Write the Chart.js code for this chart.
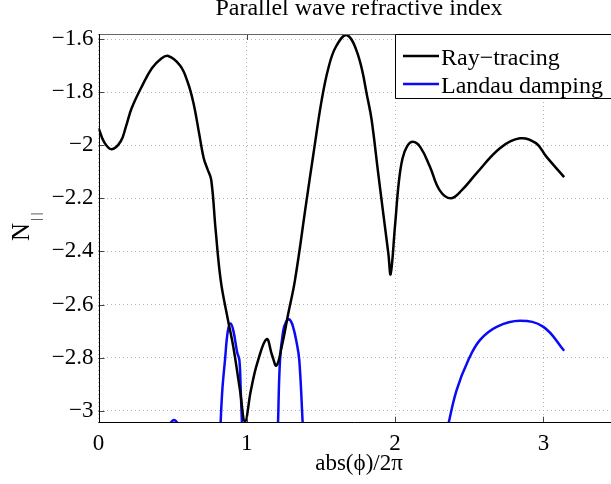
<!DOCTYPE html>
<html>
<head>
<meta charset="utf-8">
<script src="https://cdn.jsdelivr.net/npm/chart.js@4.4.1/dist/chart.umd.min.js"></script>
<style>
  html, body { margin: 0; padding: 0; background: #fff; overflow: hidden; width: 611px; height: 484px; }
  #wrap { position: absolute; left: 0; top: 0; width: 611px; height: 484px; }
</style>
</head>
<body>
<div id="wrap"><canvas id="c"></canvas></div>
<script>
// Text
const chartTitle = 'Parallel wave refractive index';
const xLabel = 'abs(\u03D5)/2\u03C0';
const yLabelMain = 'N';
const yLabelSub = '||';

// Axis ticks and visible x window
const xTicks = [0, 1, 2, 3];
const xMax = 3.456;
const yTicks = [-3, -2.8, -2.6, -2.4, -2.2, -2, -1.8, -1.6];

// Ray-tracing parallel refractive index
const rayLabel = 'Ray\u2212tracing';
const rayX = [0, 0.04, 0.09, 0.15, 0.185, 0.224, 0.30, 0.36, 0.42, 0.47, 0.55, 0.60, 0.64, 0.68, 0.71, 0.735, 0.76, 0.79,
  0.824, 0.87, 0.909, 0.954, 0.988, 1.028, 1.071, 1.134, 1.17, 1.20, 1.235, 1.28, 1.325, 1.40, 1.45,
  1.505, 1.55, 1.60, 1.674, 1.75, 1.817, 1.842, 1.885, 1.93, 1.955, 1.97, 2.0, 2.025, 2.05, 2.08, 2.119, 2.17,
  2.235, 2.30, 2.375, 2.45, 2.55, 2.707, 2.842, 2.95, 3.02, 3.14];
const rayN = [-1.935, -1.99, -2.015, -1.985, -1.93, -1.86, -1.77, -1.71, -1.675, -1.664, -1.70, -1.76, -1.84, -1.96, -2.05, -2.09, -2.13, -2.32,
  -2.508, -2.65, -2.759, -2.922, -3.04, -2.922, -2.82, -2.73, -2.79, -2.83, -2.76, -2.633, -2.508, -2.22, -2.03,
  -1.83, -1.71, -1.63, -1.585, -1.66, -1.83, -1.905, -2.10, -2.30, -2.41, -2.485, -2.30, -2.14, -2.05, -2.005, -1.987, -2.007,
  -2.081, -2.169, -2.20, -2.169, -2.105, -2.011, -1.974, -1.992, -2.043, -2.12];

// Landau damping parallel refractive index (null = gap below the plotted range)
const landauLabel = 'Landau damping';
const landauX = [0.47, 0.509, 0.55, 0.70,
  0.822, 0.835, 0.853, 0.872, 0.891, 0.91, 0.935, 0.95, 0.959, 0.968, 1.10,
  1.21, 1.224, 1.245, 1.265, 1.287, 1.31, 1.335, 1.354, 1.378, 2.0,
  2.355, 2.415, 2.494, 2.572, 2.685, 2.842, 3.0, 3.14];
const landauN = [-3.06, -3.035, -3.06, null,
  -3.06, -2.922, -2.809, -2.70, -2.671, -2.70, -2.78, -2.809, -2.922, -3.06, null,
  -3.06, -2.81, -2.70, -2.665, -2.656, -2.68, -2.74, -2.809, -3.06, null,
  -3.06, -2.922, -2.809, -2.734, -2.684, -2.661, -2.684, -2.774];

const SERIF = '"Liberation Serif", "Times New Roman", serif';
const fmt = v => (v < 0 ? '\u2212' : '') + String(Math.abs(+v.toFixed(2)));

// Axes box, inner tick marks, titles and the in-plot legend
const decorations = {
  id: 'decorations',
  afterDatasetsDraw(chart) {
    const { ctx, chartArea: a, scales } = chart;
    ctx.save();
    // inner tick marks
    ctx.strokeStyle = '#444';
    ctx.lineWidth = 1;
    ctx.beginPath();
    yTicks.forEach(t => {
      const y = Math.round(scales.y.getPixelForValue(t)) + 0.5;
      ctx.moveTo(a.left, y); ctx.lineTo(a.left + 6, y);
    });
    xTicks.forEach(t => {
      const x = Math.round(scales.x.getPixelForValue(t)) + 0.5;
      ctx.moveTo(x, a.bottom); ctx.lineTo(x, a.bottom - 6);
      ctx.moveTo(x, a.top); ctx.lineTo(x, a.top + 6);
    });
    ctx.stroke();
    // box: grey top edge, black left and bottom axes
    ctx.strokeStyle = '#666';
    ctx.beginPath();
    ctx.moveTo(a.left, Math.round(a.top) + 0.5); ctx.lineTo(a.right, Math.round(a.top) + 0.5);
    ctx.stroke();
    ctx.strokeStyle = '#000';
    ctx.beginPath();
    ctx.moveTo(Math.round(a.left) + 0.5, a.top); ctx.lineTo(Math.round(a.left) + 0.5, a.bottom);
    ctx.moveTo(a.left, Math.round(a.bottom) - 0.5); ctx.lineTo(a.right, Math.round(a.bottom) - 0.5);
    ctx.stroke();

    // title, centred on the full (untrimmed) axes width
    const cx = 359;
    ctx.fillStyle = '#000';
    ctx.font = '24px ' + SERIF;
    ctx.textAlign = 'center';
    ctx.textBaseline = 'alphabetic';
    ctx.fillText(chartTitle, cx, 15);
    // x axis label
    ctx.font = '23px ' + SERIF;
    ctx.fillText(xLabel, cx, 470);
    // y axis label with subscript
    ctx.save();
    ctx.translate(29, 241);
    ctx.rotate(-Math.PI / 2);
    ctx.textAlign = 'left';
    ctx.font = '25px ' + SERIF;
    ctx.fillText(yLabelMain, 0, 0);
    const w = ctx.measureText(yLabelMain).width;
    ctx.font = '13px ' + SERIF;
    ctx.letterSpacing = '3px';
    ctx.fillText(yLabelSub, w + 2, 11);
    ctx.restore();

    // legend
    const lx = 395.5, ly = 34.5;
    ctx.fillStyle = '#fff';
    ctx.fillRect(lx, ly, 240, 64);
    ctx.strokeStyle = '#000';
    ctx.lineWidth = 1;
    ctx.beginPath();
    ctx.moveTo(lx + 240, ly); ctx.lineTo(lx, ly); ctx.lineTo(lx, ly + 64); ctx.lineTo(lx + 240, ly + 64);
    ctx.stroke();
    const rows = [
      { ds: chart.data.datasets[0], y: 56, base: 65 },
      { ds: chart.data.datasets[1], y: 84, base: 93 }
    ];
    ctx.font = '24px ' + SERIF;
    ctx.textAlign = 'left';
    rows.forEach(r => {
      ctx.strokeStyle = r.ds.borderColor;
      ctx.lineWidth = 2.5;
      ctx.beginPath();
      ctx.moveTo(403, r.y); ctx.lineTo(439, r.y);
      ctx.stroke();
      ctx.fillStyle = '#000';
      ctx.fillText(r.ds.label, 441, r.base);
    });
    ctx.restore();
  }
};

new Chart(document.getElementById('c'), {
  type: 'line',
  data: {
    datasets: [
      {
        label: rayLabel,
        data: rayX.map((x, i) => ({ x, y: rayN[i] })),
        borderColor: '#000000',
        borderWidth: 2.5,
        pointRadius: 0,
        tension: 0.4,
        fill: false
      },
      {
        label: landauLabel,
        data: landauX.map((x, i) => ({ x, y: landauN[i] })),
        borderColor: '#0a0af5',
        borderWidth: 2.5,
        pointRadius: 0,
        tension: 0.4,
        spanGaps: false,
        fill: false
      }
    ]
  },
  options: {
    responsive: true,
    maintainAspectRatio: false,
    animation: false,
    layout: { padding: { left: 0, top: 34, right: 0, bottom: 0 } },
    plugins: { legend: { display: false }, title: { display: false }, tooltip: { enabled: false } },
    scales: {
      x: {
        type: 'linear',
        min: 0,
        max: xMax,
        afterBuildTicks: s => { s.ticks = xTicks.map(v => ({ value: v })); },
        afterFit: s => { s.height = 61.3; },
        grid: { color: '#b4b4b4', lineWidth: 1, drawTicks: false },
        border: { display: false, dash: [1, 3] },
        ticks: {
          padding: 7,
          color: '#000',
          font: { family: SERIF, size: 23 },
          maxRotation: 0,
          callback: v => String(v)
        }
      },
      y: {
        type: 'linear',
        min: -3.045,
        max: -1.581,
        afterBuildTicks: s => { s.ticks = yTicks.map(v => ({ value: v })); },
        afterFit: s => { s.width = 98.5; },
        grid: { color: '#b4b4b4', lineWidth: 1, drawTicks: false },
        border: { display: false, dash: [1, 3] },
        ticks: {
          padding: 5,
          color: '#000',
          font: { family: SERIF, size: 23 },
          callback: v => fmt(v)
        }
      }
    }
  },
  plugins: [decorations]
});
</script>
</body>
</html>
